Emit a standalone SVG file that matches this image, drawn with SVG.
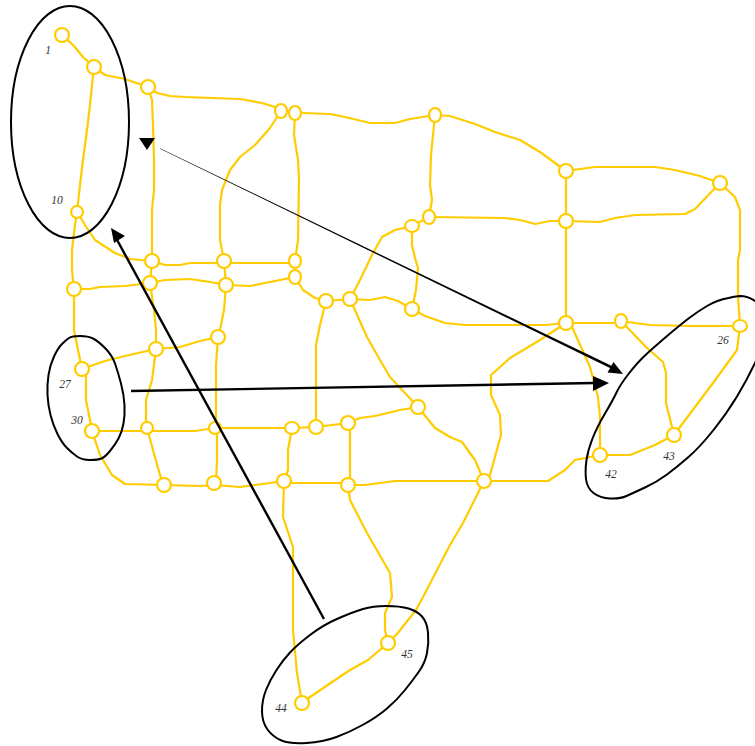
<svg xmlns="http://www.w3.org/2000/svg" width="755" height="746" viewBox="0 0 755 746">
<style>
.e{fill:none;stroke:#ffcc00;stroke-width:2.2;stroke-linejoin:round;stroke-linecap:round}
.n{fill:#fff;stroke:#ffcc00;stroke-width:2.2}
.r{fill:none;stroke:#000;stroke-width:2;stroke-linejoin:round}
.a{fill:none;stroke:#000;stroke-width:2.4}
.h{fill:#000;stroke:none}
text{font-family:"Liberation Serif","Times New Roman",serif;font-style:italic;font-size:11.5px;fill:#333;text-anchor:middle}
</style>
<g id="connectors">
<polyline class="e" points="62,35 74,46 83,57 94,67"/>
<polyline class="e" points="94,67 105,75 125,79 148,87"/>
<polyline class="e" points="94,67 92,85 90,105 87,130 83,160 80,185 77,212"/>
<polyline class="e" points="77,212 75,225 72,250 72,270 74,289"/>
<polyline class="e" points="77,212 85,225 95,240 115,253 130,259 152,261"/>
<polyline class="e" points="148,87 157,93 170,96 185,97 240,99 262,103 275,107 281,111"/>
<polyline class="e" points="148,87 152,100 153,125 154,160 154,190 152,210 152,261"/>
<polyline class="e" points="281,111 270,128 255,145 240,157 230,170 222,190 220,205 220,240 224,261"/>
<polyline class="e" points="295,113 294,135 298,160 299,180 298,240 295,261"/>
<polyline class="e" points="303,113 330,114 345,117 370,123 395,123 410,119 435,115"/>
<polyline class="e" points="435,115 433,135 431,155 430,185 432,200 429,217"/>
<polyline class="e" points="435,115 450,116 475,124 495,132 520,140 540,152 566,171"/>
<polyline class="e" points="566,171 595,167 655,167 675,170 700,176 720,183"/>
<polyline class="e" points="566,171 566,323"/>
<polyline class="e" points="429,217 505,218 520,220 535,224 550,221 566,221"/>
<polyline class="e" points="412,226 429,217"/>
<polyline class="e" points="566,221 600,222 615,218 635,215 685,214 695,209 720,183"/>
<polyline class="e" points="720,183 735,197 740,210 740,250 738,260 738,296 740,326"/>
<polyline class="e" points="412,226 412,245 415,258 418,268 416,290 412,309"/>
<polyline class="e" points="412,226 395,230 382,237 372,255 360,280 350,299"/>
<polyline class="e" points="326,301 350,299"/>
<polyline class="e" points="295,277 303,290 315,298 326,301"/>
<polyline class="e" points="350,299 370,300 385,297 398,301 412,309"/>
<polyline class="e" points="412,309 425,316 445,323 465,325 545,325 566,323"/>
<polyline class="e" points="566,323 621,323"/>
<polyline class="e" points="621,321 635,323 650,325 690,326 740,326"/>
<polyline class="e" points="621,321 647,348 663,362 666,373 666,403 674,435"/>
<polyline class="e" points="740,326 737,350 713,383 695,407 674,435"/>
<polyline class="e" points="674,435 655,445 630,455 600,455"/>
<polyline class="e" points="566,323 572,327 590,367 598,397 600,417 600,455"/>
<polyline class="e" points="566,323 540,340 510,358 491,375 491,395 500,415 501,435 490,475 484,481"/>
<polyline class="e" points="600,455 575,460 565,470 548,481 484,481"/>
<polyline class="e" points="350,299 367,337 380,360 390,377 418,407"/>
<polyline class="e" points="418,407 435,428 450,437 462,442 475,460 484,481"/>
<polyline class="e" points="418,407 400,410 375,416 360,418 348,423"/>
<polyline class="e" points="348,423 316,427 292,428"/>
<polyline class="e" points="350,423 350,485"/>
<polyline class="e" points="326,301 320,325 316,345 316,427"/>
<polyline class="e" points="292,428 215,428"/>
<polyline class="e" points="215,428 195,431 92,431"/>
<polyline class="e" points="152,261 165,265 180,265 190,263 295,263"/>
<polyline class="e" points="150,283 165,280 190,279 210,282 226,285"/>
<polyline class="e" points="226,285 250,286 270,282 295,277"/>
<polyline class="e" points="74,289 90,289 100,287 125,286 150,283"/>
<polyline class="e" points="152,261 150,283"/>
<polyline class="e" points="224,261 226,285"/>
<polyline class="e" points="150,283 154,310 156,330 156,349"/>
<polyline class="e" points="226,285 224,310 221,325 218,337"/>
<polyline class="e" points="218,337 200,341 180,347 156,349"/>
<polyline class="e" points="156,349 125,356 105,361 82,369"/>
<polyline class="e" points="74,289 74,330 78,350 82,369"/>
<polyline class="e" points="86,369 86,400 90,420 92,431"/>
<polyline class="e" points="156,349 152,380 146,400 146,428"/>
<polyline class="e" points="218,337 216,365 216,428"/>
<polyline class="e" points="92,431 100,455 112,475 125,484 164,485"/>
<polyline class="e" points="147,428 153,450 160,475 164,485"/>
<polyline class="e" points="217,428 217,460 216,483"/>
<polyline class="e" points="164,485 200,486 214,485 240,487 270,483 284,481"/>
<polyline class="e" points="292,428 288,450 288,470 284,481"/>
<polyline class="e" points="284,483 348,483"/>
<polyline class="e" points="348,485 365,485 395,481 460,481 484,481"/>
<polyline class="e" points="284,481 283,517 293,547 293,630 297,673 302,703"/>
<polyline class="e" points="348,485 350,500 367,533 390,573 392,597 385,613 385,630 388,643"/>
<polyline class="e" points="484,481 463,523 450,545 423,597 416,610 397,634 388,643"/>
<polyline class="e" points="388,643 368,660 350,670 310,697 302,703"/>
</g>
<g id="nodes">
<g id="n1"><circle class="n" cx="62" cy="35" r="7"/><text x="48" y="54">1</text></g>
<g id="n2"><circle class="n" cx="94" cy="67" r="7"/></g>
<g id="n3"><circle class="n" cx="148" cy="87" r="7"/></g>
<g id="n4"><ellipse class="n" cx="281" cy="111" rx="6" ry="7"/></g>
<g id="n5"><ellipse class="n" cx="295" cy="113" rx="6" ry="7"/></g>
<g id="n6"><ellipse class="n" cx="435" cy="115" rx="6" ry="7"/></g>
<g id="n7"><circle class="n" cx="566" cy="171" r="7"/></g>
<g id="n8"><circle class="n" cx="720" cy="183" r="7"/></g>
<g id="n9"><ellipse class="n" cx="429" cy="217" rx="6" ry="7"/></g>
<g id="n10"><ellipse class="n" cx="412" cy="226" rx="7" ry="6"/></g>
<g id="n11"><circle class="n" cx="566" cy="221" r="7"/></g>
<g id="n12"><circle class="n" cx="77" cy="212" r="6"/><text x="57" y="204">10</text></g>
<g id="n13"><circle class="n" cx="152" cy="261" r="7"/></g>
<g id="n14"><circle class="n" cx="224" cy="261" r="7"/></g>
<g id="n15"><ellipse class="n" cx="295" cy="261" rx="6" ry="7"/></g>
<g id="n16"><circle class="n" cx="150" cy="283" r="7"/></g>
<g id="n17"><circle class="n" cx="226" cy="285" r="7"/></g>
<g id="n18"><ellipse class="n" cx="295" cy="277" rx="6" ry="7"/></g>
<g id="n19"><circle class="n" cx="74" cy="289" r="7"/></g>
<g id="n20"><circle class="n" cx="326" cy="301" r="7"/></g>
<g id="n21"><circle class="n" cx="350" cy="299" r="7"/></g>
<g id="n22"><circle class="n" cx="412" cy="309" r="7"/></g>
<g id="n23"><circle class="n" cx="566" cy="323" r="7"/></g>
<g id="n24"><ellipse class="n" cx="621" cy="321" rx="6" ry="7"/></g>
<g id="n25"><ellipse class="n" cx="740" cy="326" rx="7" ry="6"/><text x="723" y="344">26</text></g>
<g id="n26"><circle class="n" cx="218" cy="337" r="7"/></g>
<g id="n27"><circle class="n" cx="156" cy="349" r="7"/></g>
<g id="n28"><circle class="n" cx="82" cy="369" r="7"/><text x="65" y="388">27</text></g>
<g id="n29"><circle class="n" cx="418" cy="407" r="7"/></g>
<g id="n30"><circle class="n" cx="92" cy="431" r="7"/><text x="77" y="424">30</text></g>
<g id="n31"><circle class="n" cx="147" cy="428" r="6"/></g>
<g id="n32"><ellipse class="n" cx="215" cy="428" rx="6" ry="6"/></g>
<g id="n33"><ellipse class="n" cx="292" cy="428" rx="7" ry="6"/></g>
<g id="n34"><circle class="n" cx="316" cy="427" r="7"/></g>
<g id="n35"><circle class="n" cx="348" cy="423" r="7"/></g>
<g id="n36"><circle class="n" cx="674" cy="435" r="7"/><text x="669" y="460">43</text></g>
<g id="n37"><circle class="n" cx="600" cy="455" r="7"/><text x="611" y="478">42</text></g>
<g id="n38"><circle class="n" cx="164" cy="485" r="7"/></g>
<g id="n39"><circle class="n" cx="214" cy="483" r="7"/></g>
<g id="n40"><circle class="n" cx="284" cy="481" r="7"/></g>
<g id="n41"><circle class="n" cx="348" cy="485" r="7"/></g>
<g id="n42"><circle class="n" cx="484" cy="481" r="7"/></g>
<g id="n43"><circle class="n" cx="388" cy="643" r="7"/><text x="407" y="658">45</text></g>
<g id="n44"><circle class="n" cx="302" cy="703" r="7"/><text x="281" y="712">44</text></g>
</g>
<g id="regions">
<ellipse class="r" cx="70" cy="122" rx="59" ry="116"/>
<path class="r" d="M80,336 Q88,336 93,338.5 Q98,341 105,348 Q112,355 115,363.5 Q118,372 121,383.5 Q124,395 124.5,405 Q125,415 123.5,423.5 Q122,432 118.5,438.5 Q115,445 110,451 Q105,457 101.5,458.5 Q98,460 90,460 Q82,460 77,456.5 Q72,453 67,448 Q62,443 57.5,434 Q53,425 50.5,415 Q48,405 47.5,395 Q47,385 48.5,375 Q50,365 54,356.5 Q58,348 62,344 Q66,340 69,338 Q72,336 80,336Z"/>
<path class="r" d="M728.5,298 Q717,300 707,306 Q697,312 688.5,318.5 Q680,325 666.5,336.5 Q653,348 645,355.5 Q637,363 628.5,374 Q620,385 616.5,392.5 Q613,400 605,413.5 Q597,427 592.5,438.5 Q588,450 586.5,460 Q585,470 586,479 Q587,488 593.5,493 Q600,498 610,498.5 Q620,499 626.5,496 Q633,493 645,487.5 Q657,482 667,474.5 Q677,467 688.5,457 Q700,447 713.5,430 Q727,413 737,396.5 Q747,380 755,363 Q763,346 765,330 Q765,310 755,301 Q748,296 740,296 Q734,296.5 728.5,298Z"/>
<path class="r" d="M386,606 Q400,606 408.5,608.5 Q417,611 422,616.5 Q427,622 428,632.5 Q429,643 427,653 Q425,663 419,671.5 Q413,680 405,690 Q397,700 387,708.5 Q377,717 363.5,724.5 Q350,732 336.5,737 Q323,742 306.5,743 Q290,744 281.5,740.5 Q273,737 267.5,729.5 Q262,722 262,711 Q262,700 266,690 Q270,680 276.5,670 Q283,660 290,652.5 Q297,645 310,635 Q323,625 338,618.5 Q353,612 363,609 Q373,606 386,606Z"/>
</g>
<g id="arrows">
<line class="a" x1="324" y1="619" x2="116" y2="238"/>
<polygon class="h" points="111,228 125,236 114,243"/>
<line class="a" x1="131" y1="391" x2="595" y2="383"/>
<polygon class="h" points="609,383 593,376 593,391"/>
<polygon class="h" points="160,148.3 160,148.7 612,369 613,366.6"/>
<polygon class="h" points="623,374 613.5,362 607.5,372.5"/>
<polygon class="h" points="139,138 155,138 147,150"/>
</g>
</svg>
